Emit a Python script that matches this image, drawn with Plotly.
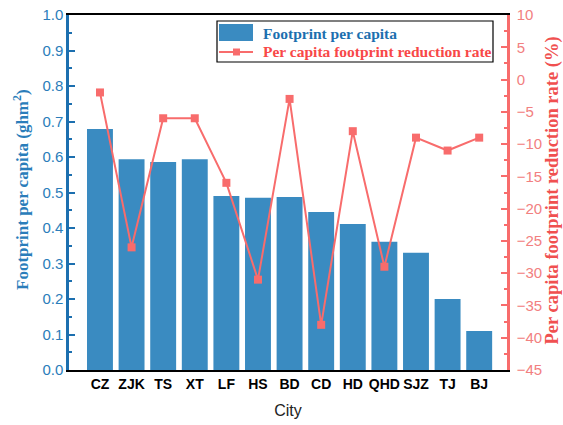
import plotly.graph_objects as go

cities = ["CZ", "ZJK", "TS", "XT", "LF", "HS", "BD", "CD", "HD", "QHD", "SJZ", "TJ", "BJ"]
footprint = [0.679, 0.594, 0.586, 0.594, 0.490, 0.485, 0.487, 0.445, 0.411, 0.361, 0.330, 0.200, 0.110]
reduction = [-2, -26, -6, -6, -16, -31, -3, -38, -8, -29, -9, -11, -9]

BLUE_BAR = "#3A8BC1"
BLUE_AX = "#1C6FAF"
BLUE_TXT = "#2A7DBA"
RED = "#F86C6C"
RED_TXT = "#F28080"

W, H = 563, 425
ML, MR, MT, MB = 69, 56, 15, 55
PW, PH = W - ML - MR, H - MT - MB


def px(x):
    return (x - ML) / PW


def py(y):
    return (H - MB - y) / PH


fig = go.Figure()
fig.add_trace(go.Bar(
    x=cities, y=footprint, marker=dict(color=BLUE_BAR, line=dict(width=0)),
    width=0.82, name="Footprint per capita", yaxis="y", showlegend=False,
))
fig.add_trace(go.Scatter(
    x=cities, y=reduction, mode="lines+markers",
    line=dict(color=RED, width=2),
    marker=dict(symbol="square", size=8, color=RED),
    name="Per capita footprint reduction rate", yaxis="y2", showlegend=False,
))

# custom legend (box, swatches, labels)
shapes = [
    dict(type="rect", xref="paper", yref="paper", x0=px(217), x1=px(493), y0=py(62), y1=py(21),
         line=dict(color="black", width=1.2), fillcolor="white", layer="above"),
    dict(type="rect", xref="paper", yref="paper", x0=px(219), x1=px(253), y0=py(41), y1=py(24),
         line=dict(width=0), fillcolor=BLUE_BAR, layer="above"),
    dict(type="line", xref="paper", yref="paper", x0=px(219), x1=px(253), y0=py(52), y1=py(52),
         line=dict(color=RED, width=2), layer="above"),
    dict(type="rect", xref="paper", yref="paper", x0=px(233), x1=px(240), y0=py(55.5), y1=py(48.5),
         line=dict(width=0), fillcolor=RED, layer="above"),
]
annotations = [
    dict(text="<b>Footprint per capita</b>", xref="paper", yref="paper", x=px(261), y=py(33),
         xanchor="left", yanchor="middle", showarrow=False,
         font=dict(family="Liberation Serif", size=15.5, color="#1C6FAF")),
    dict(text="<b>Per capita footprint reduction rate</b>", xref="paper", yref="paper", x=px(261), y=py(52),
         xanchor="left", yanchor="middle", showarrow=False,
         font=dict(family="Liberation Serif", size=15.5, color="#F84848")),
    dict(text="<b>Footprint per capita (ghm<sup>2</sup>)</b>", xref="paper", yref="paper",
         x=px(21), y=py(190), xanchor="center", yanchor="middle", textangle=-90, showarrow=False,
         font=dict(family="Liberation Serif", size=17, color=BLUE_TXT)),
    dict(text="<b>Per capita footprint reduction rate (%)</b>", xref="paper", yref="paper",
         x=px(552), y=py(190.5), xanchor="center", yanchor="middle", textangle=-90, showarrow=False,
         font=dict(family="Liberation Serif", size=18.5, color="#F05050")),
]

fig.update_layout(
    width=W, height=H,
    margin=dict(l=ML, r=MR, t=MT, b=MB, autoexpand=False),
    plot_bgcolor="white", paper_bgcolor="white",
    showlegend=False,
    shapes=shapes, annotations=annotations,
    xaxis=dict(
        range=[-0.98, 12.88], automargin=False,
        showline=True, linecolor="black", linewidth=2, mirror=True,
        ticks="", showgrid=False,
        tickfont=dict(family="Liberation Sans", size=14, color="black", weight="bold"),
        title=dict(text="City", font=dict(family="Liberation Sans", size=16, color="#222"), standoff=14),
    ),
    yaxis=dict(
        range=[0, 1.0], dtick=0.1, tickformat=".1f", automargin=False,
        showline=True, linecolor=BLUE_AX, linewidth=2.5,
        ticks="inside", ticklen=6, tickwidth=2, tickcolor=BLUE_AX,
        minor=dict(ticks="inside", ticklen=3, tickwidth=2, tickcolor=BLUE_AX, dtick=0.05),
        showgrid=False, zeroline=False,
        tickfont=dict(family="Liberation Sans", size=15, color=BLUE_TXT),
    ),
    yaxis2=dict(
        range=[-45, 10], dtick=5, overlaying="y", side="right", automargin=False,
        showline=True, linecolor=RED, linewidth=2.5,
        ticks="inside", ticklen=6, tickwidth=2, tickcolor=RED,
        minor=dict(ticks="inside", ticklen=3, tickwidth=2, tickcolor=RED, dtick=2.5),
        showgrid=False, zeroline=False, ticklabelstandoff=4,
        tickfont=dict(family="Liberation Sans", size=15, color=RED_TXT),
    ),
)

fig.write_html(
    "out.html",
    config={"displayModeBar": False},
    post_script="document.body.style.margin='0';document.body.style.overflow='hidden';",
)
